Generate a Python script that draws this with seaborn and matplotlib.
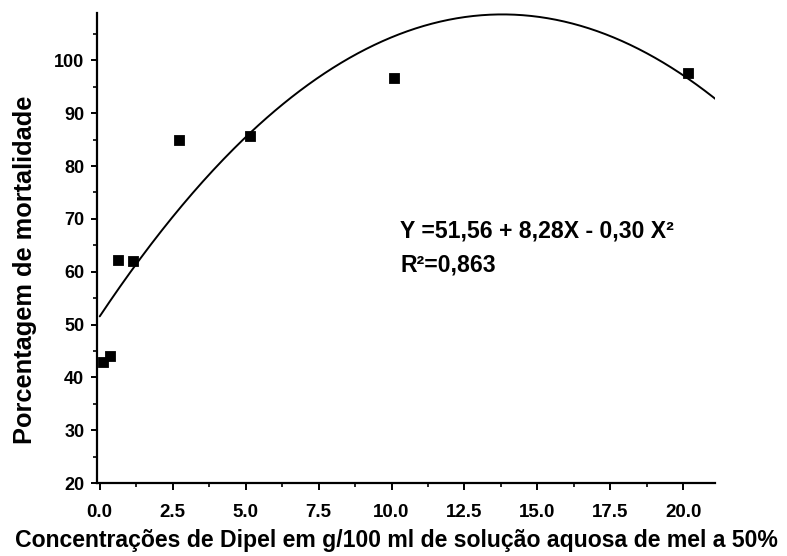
import numpy as np
import pandas as pd
import matplotlib
matplotlib.use("Agg")
import matplotlib.pyplot as plt
import seaborn as sns
from matplotlib.ticker import MultipleLocator

# Observed data
concentracao = [0.1, 0.35, 0.62, 1.13, 2.7, 5.15, 10.1, 20.15]
mortalidade = [42.9, 44.1, 62.2, 62.1, 84.9, 85.7, 96.6, 97.7]

# Fitted quadratic model shown on the chart: Y = 51.56 + 8.28X - 0.30X^2
coeficientes = [-0.30, 8.28, 51.56]
x_range = [0.0, 21.15]

x_ticks = [0.0, 2.5, 5.0, 7.5, 10.0, 12.5, 15.0, 17.5, 20.0]
y_ticks = [20, 30, 40, 50, 60, 70, 80, 90, 100]

equacao = "Y =51,56 + 8,28X - 0,30 X²"
r2_texto = "R²=0,863"
xlabel = "Concentrações de Dipel em g/100 ml de solução aquosa de mel a 50%"
ylabel = "Porcentagem de mortalidade"

sns.set_style("ticks")
plt.rcParams["font.family"] = ["Liberation Sans", "DejaVu Sans"]
plt.rcParams["text.color"] = "black"
plt.rcParams["axes.labelcolor"] = "black"

fig = plt.figure(figsize=(7.87, 5.56), dpi=100)
ax = fig.add_axes([0.123, 0.131, 0.786, 0.846])

df_pts = pd.DataFrame({"x": concentracao, "y": mortalidade})
xs = np.linspace(x_range[0], x_range[1], 300)
df_fit = pd.DataFrame({"x": xs, "y": np.polyval(coeficientes, xs)})

sns.lineplot(data=df_fit, x="x", y="y", ax=ax, color="black", linewidth=1.4)
sns.scatterplot(data=df_pts, x="x", y="y", ax=ax, marker="s", s=55,
                color="black", edgecolor="black", zorder=3)

ax.set_xlim(-0.1, 21.1)
ax.set_ylim(20, 109)
ax.set_xticks(x_ticks)
ax.set_xticklabels([f"{v:.1f}" for v in x_ticks])
ax.set_yticks(y_ticks)
ax.xaxis.set_minor_locator(MultipleLocator(1.25))
ax.yaxis.set_minor_locator(MultipleLocator(5))

for sp in ["top", "right"]:
    ax.spines[sp].set_visible(False)
for sp in ["left", "bottom"]:
    ax.spines[sp].set_linewidth(1.6)
    ax.spines[sp].set_color("black")

ax.tick_params(axis="x", which="major", direction="out", length=5, width=1.4,
               labelsize=13.5, colors="black", pad=10)
ax.tick_params(axis="y", which="major", direction="out", length=4, width=1.4,
               labelsize=13, colors="black", pad=5)
ax.tick_params(axis="both", which="minor", direction="out", length=3, width=1.2,
               colors="black")
for lab in ax.get_xticklabels() + ax.get_yticklabels():
    lab.set_fontweight("bold")

ax.set_xlabel(xlabel, fontsize=16.6, fontweight="bold", color="black")
ax.xaxis.set_label_coords(0.485, -0.098)
ax.set_ylabel(ylabel, fontsize=18.3, fontweight="bold", color="black")
ax.yaxis.set_label_coords(-0.097, 0.453)

ax.text(10.3, 67.8, equacao, fontsize=16.6, fontweight="bold", color="black",
        va="center", ha="left")
ax.text(10.3, 61.2, r2_texto, fontsize=16.6, fontweight="bold", color="black",
        va="center", ha="left")

fig.savefig("out.png", dpi=100)
